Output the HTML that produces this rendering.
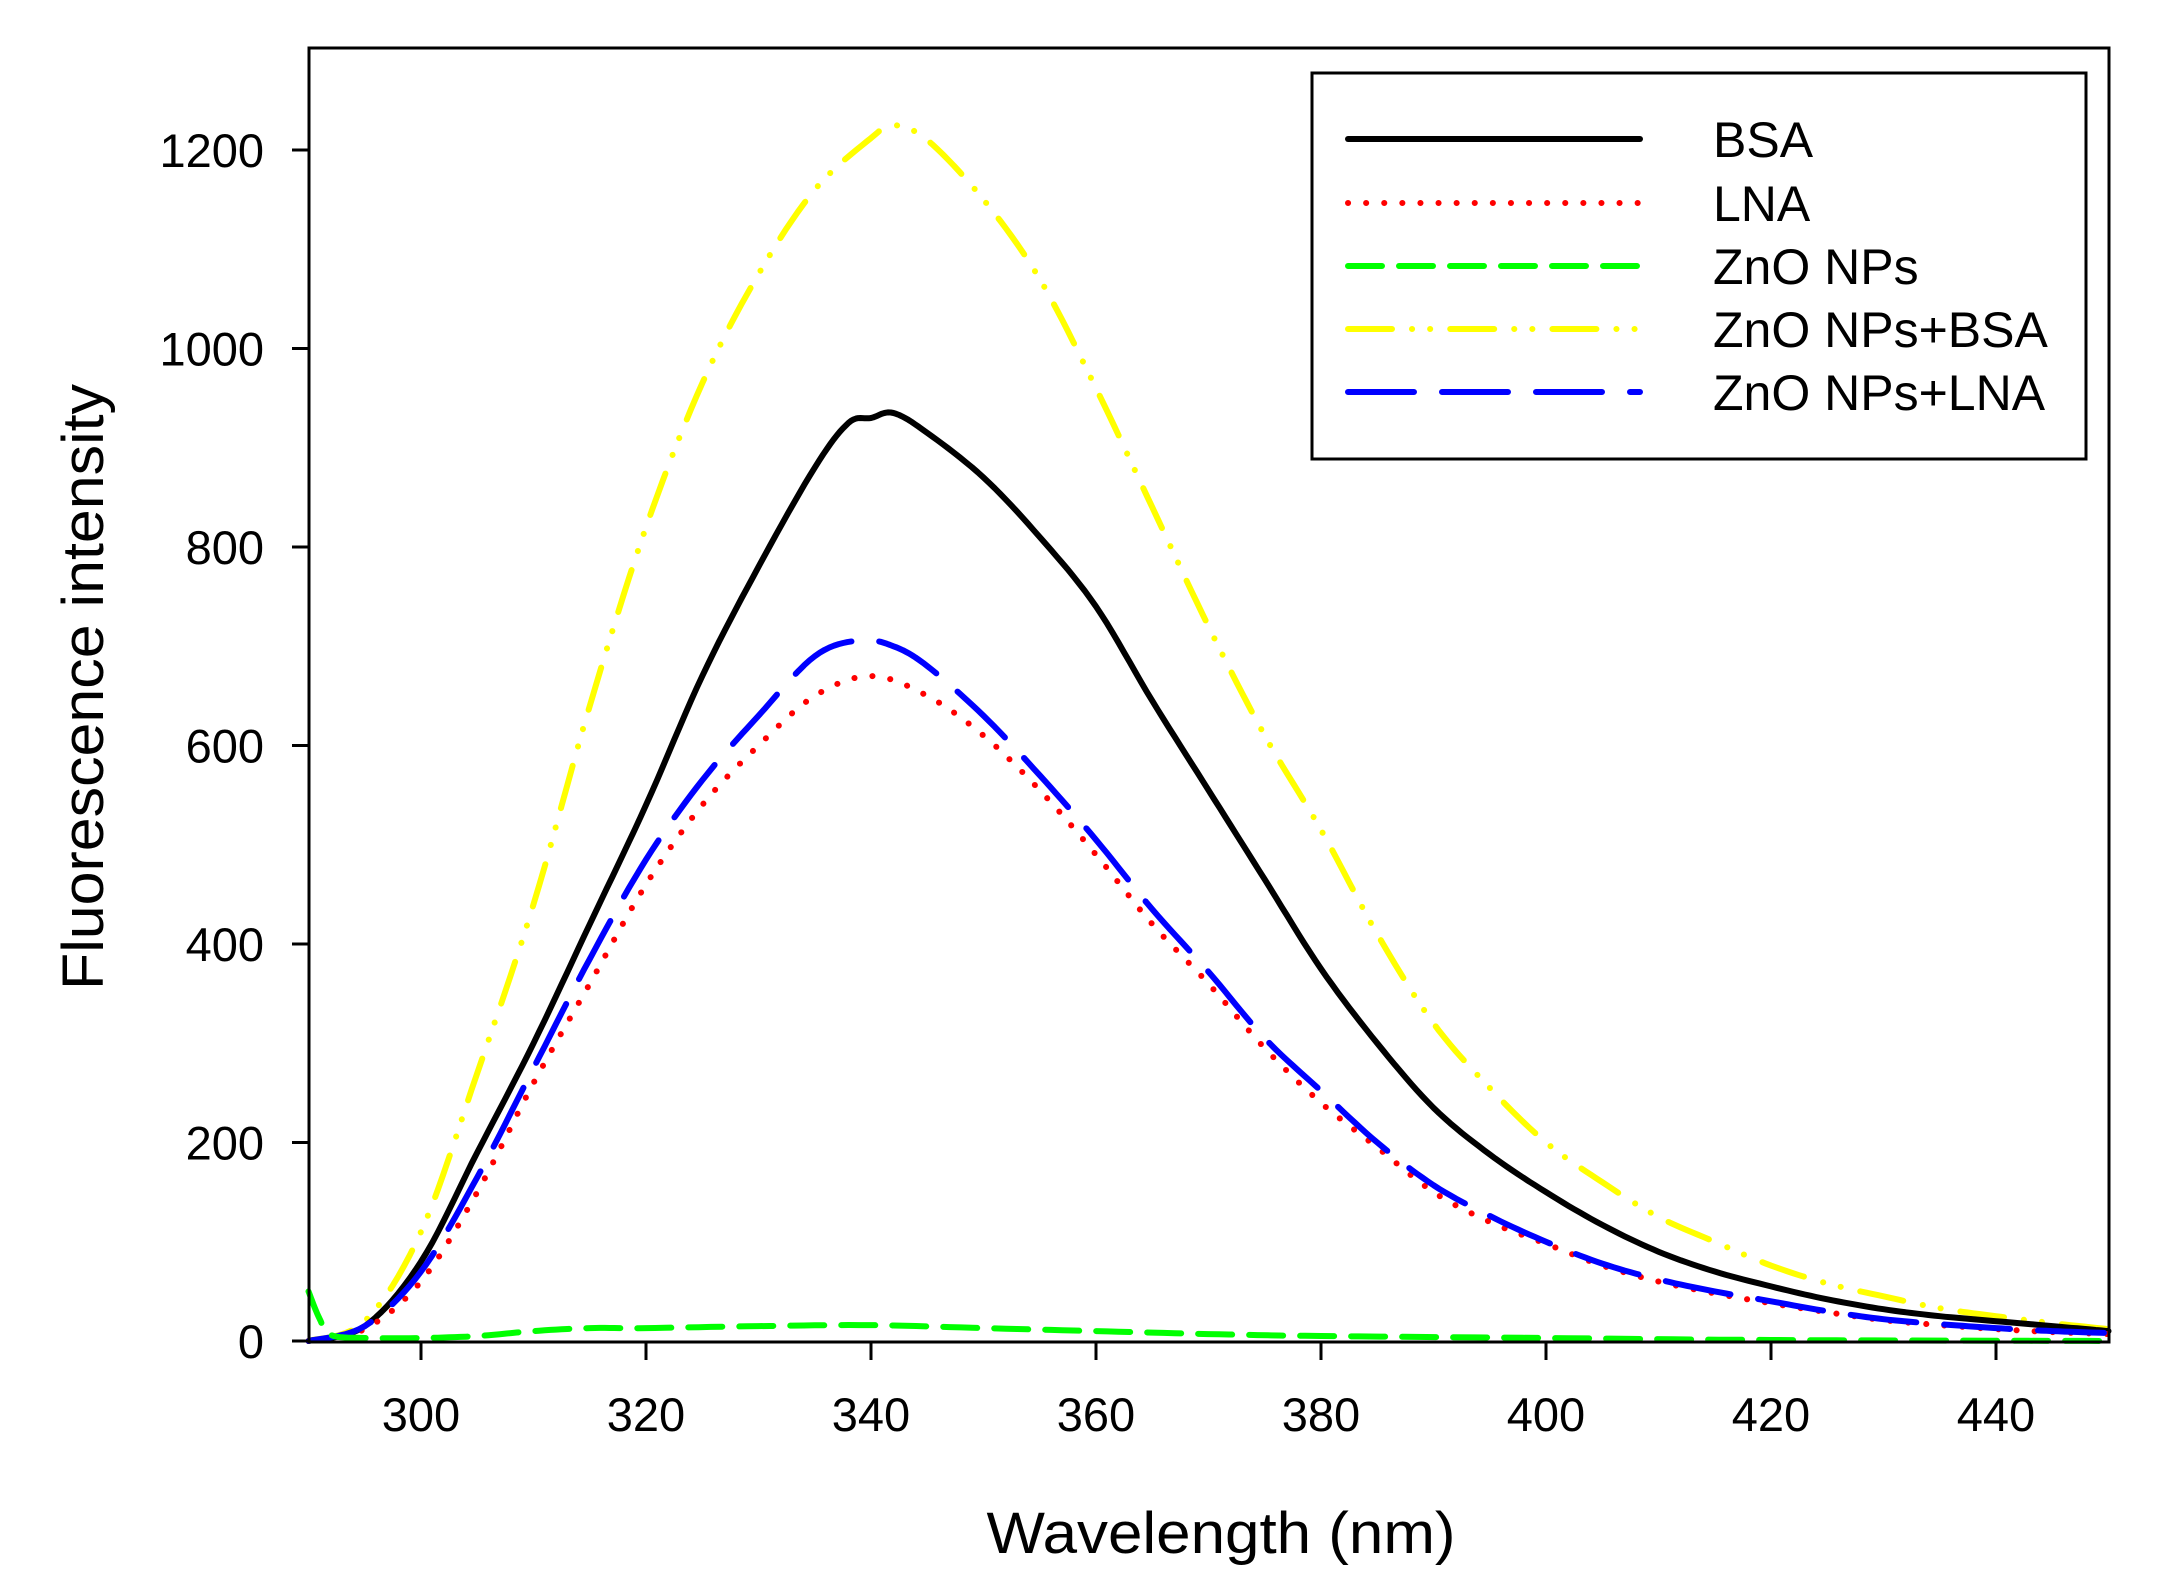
<!DOCTYPE html>
<html><head><meta charset="utf-8"><style>
html,body{margin:0;padding:0;background:#fff;}
svg{display:block;}
text{font-family:"Liberation Sans",Arial,sans-serif;fill:#000;}
</style></head><body>
<svg id="s" width="2158" height="1596" viewBox="0 0 2158 1596" xmlns="http://www.w3.org/2000/svg">
<rect x="0" y="0" width="2158" height="1596" fill="#fff"/>
<g id="curves" fill="none" stroke-linejoin="round"></g>
<rect x="309" y="48" width="1800" height="1294" fill="none" stroke="#000" stroke-width="3"/>
<g id="ticks" stroke="#000" stroke-width="3"></g>
<g id="labels" font-size="47"></g>
<text x="83" y="687" font-size="58" text-anchor="middle" transform="rotate(-90 83 687)" dy="20" textLength="606" lengthAdjust="spacingAndGlyphs">Fluorescence intensity</text>
<text x="1221" y="1553" font-size="58" text-anchor="middle" textLength="469" lengthAdjust="spacingAndGlyphs">Wavelength (nm)</text>
<rect x="1312" y="73" width="774" height="386" fill="#fff" stroke="#000" stroke-width="3"/>
<g stroke-width="6" stroke-linecap="round">
<line x1="1348" y1="139" x2="1640" y2="139" stroke="#000"/>
<line x1="1348" y1="203" x2="1640" y2="203" stroke="#f00" stroke-dasharray="0.1 18"/>
<line x1="1348" y1="266" x2="1640" y2="266" stroke="#0f0" stroke-dasharray="34 17"/>
<line x1="1348" y1="329" x2="1640" y2="329" stroke="#ff0" stroke-dasharray="44 20 0.1 18 0.1 20"/>
<line x1="1348" y1="392" x2="1640" y2="392" stroke="#00f" stroke-dasharray="66 28"/>
</g>
<g font-size="50">
<text x="1713" y="157">BSA</text>
<text x="1713" y="221">LNA</text>
<text x="1713" y="284">ZnO NPs</text>
<text x="1713" y="347">ZnO NPs+BSA</text>
<text x="1713" y="410">ZnO NPs+LNA</text>
</g>
</svg>
<script>
function X(w){return 421+(w-300)*11.25;}
function Y(v){return 1341-v*0.9925;}
var NS="http://www.w3.org/2000/svg";
function pts(arr){var o=[];for(var i=0;i<arr.length;i+=2)o.push([arr[i],arr[i+1]]);return o;}
function spline(p){
 var d="M"+X(p[0][0]).toFixed(1)+","+Y(p[0][1]).toFixed(1);
 for(var i=0;i<p.length-1;i++){
  var p0=p[Math.max(i-1,0)],p1=p[i],p2=p[i+1],p3=p[Math.min(i+2,p.length-1)];
  for(var t=0.1;t<=1.0001;t+=0.1){
   var t2=t*t,t3=t2*t;
   function cr(a,b,c,e){return 0.5*((2*b)+(-a+c)*t+(2*a-5*b+4*c-e)*t2+(-a+3*b-3*c+e)*t3);}
   var w=cr(p0[0],p1[0],p2[0],p3[0]),v=cr(p0[1],p1[1],p2[1],p3[1]);
   d+="L"+X(w).toFixed(1)+","+Y(v).toFixed(1);
  }
 }
 return d;
}
var series=[
 {c:"#ff0",da:"44 20 0.1 18 0.1 20",d:pts([290,0,295,20,300,110,305,270,310,440,315,640,320,820,325,965,330,1075,335,1160,340,1212,342,1225,345,1210,350,1150,355,1070,360,960,365,840,370,720,375,610,380,515,385,410,390,320,395,255,400,200,405,160,410,125,415,100,420,76,425,58,430,45,435,33,440,25,445,18,450,12])},
 {c:"#000",da:"",d:pts([290,0,295,15,300,80,305,190,310,300,315,420,320,540,325,670,330,780,335,880,338,925,340,930,342,935,345,915,350,870,355,810,360,740,365,645,370,555,375,465,380,375,385,300,390,235,395,188,400,150,405,117,410,90,415,70,420,55,425,42,430,32,435,25,440,20,445,15,450,10])},
 {c:"#f00",da:"0.1 18",d:pts([290,0,295,12,300,60,305,150,310,260,315,360,320,460,325,540,330,600,335,650,340,670,345,650,350,610,355,555,360,490,365,420,370,360,375,295,380,240,385,195,390,150,395,120,400,98,405,76,410,60,415,48,420,38,425,29,430,21,435,16,440,12,445,9,450,7])},
 {c:"#00f",da:"66 28",d:pts([290,0,295,15,300,70,305,165,310,275,315,385,320,485,325,565,330,630,335,690,339,706,342,700,345,680,350,630,355,570,360,505,365,435,370,372,375,305,380,252,385,200,390,157,395,126,400,100,405,78,410,62,415,50,420,40,425,30,430,22,435,17,440,13,445,10,450,8])},
 {c:"#0f0",da:"34 17",d:pts([290,50,291,22,292,6,295,3,300,3,305,5,310,10,315,13,320,13,330,15,340,16,350,13,360,10,370,7,380,5,400,3,420,1,450,0])}
];
var g=document.getElementById("curves");
series.forEach(function(s){
 var p=document.createElementNS(NS,"path");
 p.setAttribute("d",spline(s.d));p.setAttribute("stroke",s.c);p.setAttribute("stroke-width","6");
 p.setAttribute("stroke-linecap","round");
 if(s.da)p.setAttribute("stroke-dasharray",s.da);
 g.appendChild(p);
});
var tk=document.getElementById("ticks"),lb=document.getElementById("labels");
function ln(a,b,c,d){var l=document.createElementNS(NS,"line");l.setAttribute("x1",a);l.setAttribute("y1",b);l.setAttribute("x2",c);l.setAttribute("y2",d);tk.appendChild(l);}
function tx(x,y,s,anc){var t=document.createElementNS(NS,"text");t.setAttribute("x",x);t.setAttribute("y",y);t.setAttribute("text-anchor",anc);t.textContent=s;lb.appendChild(t);}
ln(292,1341,309,1341);
for(var v=0;v<=1200;v+=200){var y=Y(v);ln(292,y,309,y);tx(264,y+17,String(v),"end");}
for(var w=300;w<=440;w+=20){var x=X(w);ln(x,1341,x,1360);tx(x,1431,String(w),"middle");}
</script>
</body></html>
